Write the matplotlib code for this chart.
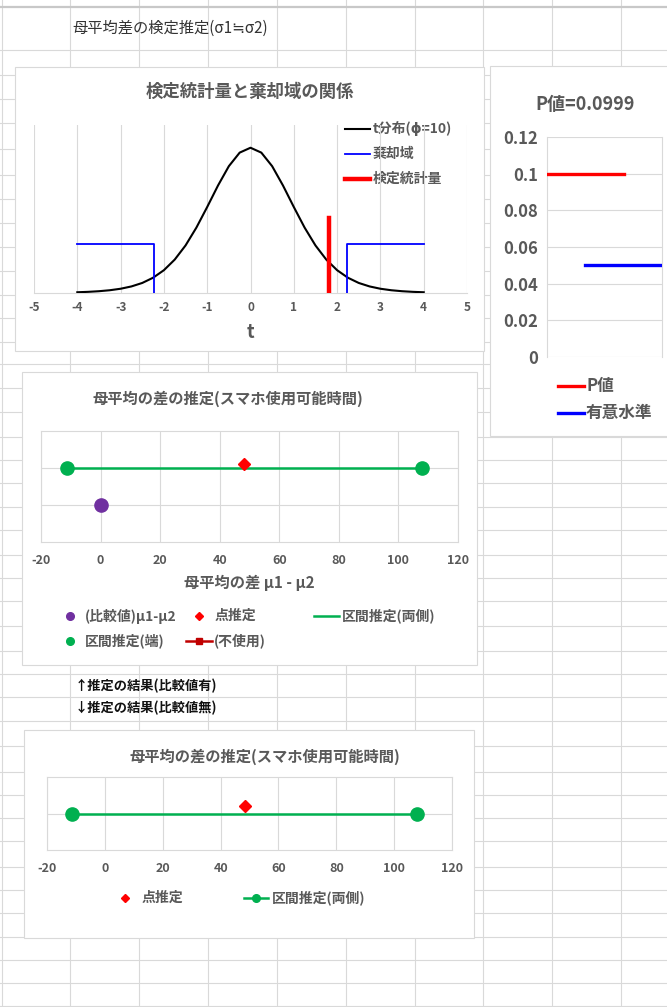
import matplotlib.pyplot as plt
from matplotlib.patches import Rectangle
from matplotlib.lines import Line2D

plt.rcParams['font.family'] = ['Noto Sans CJK JP', 'DejaVu Sans']
plt.rcParams['font.weight'] = 'bold'
plt.rcParams['axes.unicode_minus'] = False

W, H = 667, 1007
GRAY = '#595959'
GRID = '#d9d9d9'

# t分布(φ=10) の密度 (t = -4 .. 4, 0.25刻み)
t_vals = [-4.0, -3.75, -3.5, -3.25, -3.0, -2.75, -2.5, -2.25, -2.0, -1.75, -1.5,
          -1.25, -1.0, -0.75, -0.5, -0.25, 0.0, 0.25, 0.5, 0.75, 1.0, 1.25, 1.5,
          1.75, 2.0, 2.25, 2.5, 2.75, 3.0, 3.25, 3.5, 3.75, 4.0]
t_dens = [0.0020, 0.0031, 0.0048, 0.0074, 0.0114, 0.0176, 0.0269, 0.0409, 0.0611,
          0.0895, 0.1274, 0.1751, 0.2304, 0.2880, 0.3397, 0.3760, 0.3891, 0.3760,
          0.3397, 0.2880, 0.2304, 0.1751, 0.1274, 0.0895, 0.0611, 0.0409, 0.0269,
          0.0176, 0.0114, 0.0074, 0.0048, 0.0031, 0.0020]

# 棄却域 (左右) と検定統計量
rej_left_x = [-4.0, -2.228, -2.228]
rej_left_y = [0.13, 0.13, 0.0]
rej_right_x = [2.228, 2.228, 4.0]
rej_right_y = [0.0, 0.13, 0.13]
stat_x = [1.812, 1.812]
stat_y = [0.0, 0.2]

# P値と有意水準
p_value = 0.0999
alpha = 0.05
p_x = [0, 2]
alpha_x = [1, 3]

# 母平均の差の推定
comp_value = 0.0
point_est = 48.3
ci_low, ci_high = -11.2, 107.8

# シートのセル境界
col_lines = [2, 70, 138.9, 207.8, 276.7, 345.6, 414.5, 483.4, 552.3, 621.2]
row_lines = [50, 75, 99, 123, 149, 175, 199, 223, 247, 271, 295, 318, 342, 364,
             388, 412, 437, 460, 483, 507, 530, 555, 578, 601, 626, 651, 674, 697,
             721, 746, 772, 795, 818, 841, 867, 890, 913, 937, 960, 983, 1006]

fig = plt.figure(figsize=(W / 100, H / 100), dpi=100)
bg = fig.add_axes([0, 0, 1, 1])
bg.set_xlim(0, W)
bg.set_ylim(H, 0)
bg.axis('off')

for x in col_lines:
    bg.plot([x, x], [0, H], color=GRID, lw=0.8, zorder=1)
for y in row_lines:
    bg.plot([0, W], [y, y], color=GRID, lw=0.8, zorder=1)
bg.plot([0, W], [7, 7], color='#c8c8c8', lw=1.6, zorder=1)

bg.text(72, 28, '母平均差の検定推定(σ1≒σ2)', fontsize=11, color='#333333',
        fontweight='normal', va='center', ha='left')
bg.text(75, 686, '↑推定の結果(比較値有)', fontsize=9.5, color='#111111',
        va='center', ha='left')
bg.text(75, 708, '↓推定の結果(比較値無)', fontsize=9.5, color='#111111',
        va='center', ha='left')


def chart_box(x0, y0, x1, y1):
    bg.add_patch(Rectangle((x0, y0), x1 - x0, y1 - y0, facecolor='white',
                           edgecolor=GRID, lw=0.8, zorder=2))


def px_axes(x0, y0, x1, y1):
    ax = fig.add_axes([x0 / W, 1 - y1 / H, (x1 - x0) / W, (y1 - y0) / H])
    ax.set_facecolor('none')
    return ax


def key(x0, x1, y, color, label, tx, size, lw=0.0, marker=None, ms=0):
    if lw > 0:
        bg.add_line(Line2D([x0, x1], [y, y], color=color, lw=lw, zorder=3))
    if marker:
        xm = (x0 + x1) / 2
        bg.add_line(Line2D([xm], [y], color=color, marker=marker, ms=ms,
                           ls='none', zorder=4))
    bg.text(tx, y, label, fontsize=size, color=GRAY, va='center', ha='left',
            zorder=4)


def tick_style(ax, size, pad):
    ax.tick_params(length=0, labelsize=size, labelcolor=GRAY, pad=pad)


# ---- 検定統計量と棄却域 ----
chart_box(15, 67, 484, 351)
bg.text(250, 92, '検定統計量と棄却域の関係', fontsize=12.5, color=GRAY,
        ha='center', va='center', zorder=3)
ax1 = px_axes(34, 125, 467, 293)
ax1.set_xlim(-5, 5)
ax1.set_ylim(0, 0.45)
ax1.set_xticks(range(-5, 6))
ax1.set_yticks([])
ax1.grid(axis='x', color=GRID, lw=0.8)
for s in ['top', 'left', 'right']:
    ax1.spines[s].set_visible(False)
ax1.spines['bottom'].set_color(GRID)
ax1.plot(t_vals, t_dens, color='black', lw=1.5, zorder=3)
ax1.plot(rej_left_x, rej_left_y, color='#0000ff', lw=1.3, zorder=3)
ax1.plot(rej_right_x, rej_right_y, color='#0000ff', lw=1.3, zorder=3)
ax1.plot(stat_x, stat_y, color='#ff0000', lw=3.2, zorder=4)
tick_style(ax1, 8.5, 5.5)
bg.text(250, 332, 't', fontsize=13, color=GRAY, ha='center', va='center',
        zorder=3)
bg.add_patch(Rectangle((340, 120), 100, 70, facecolor='white', lw=0, zorder=2.5))
ax1.set_zorder(1)
leg1 = [('black', 't分布(ϕ=10)', 1.5), ('#0000ff', '棄却域', 1.3),
        ('#ff0000', '検定統計量', 3.2)]

# ---- P値 ----
chart_box(490, 66, 675, 436)
bg.text(585, 105, f'P値={p_value}', fontsize=13, color=GRAY,
        ha='center', va='center', zorder=3)
ax2 = px_axes(547, 137, 662, 357)
ax2.set_xlim(0, 3)
ax2.set_ylim(0, 0.12)
ax2.set_yticks([0, 0.02, 0.04, 0.06, 0.08, 0.1, 0.12])
ax2.set_yticklabels(['0', '0.02', '0.04', '0.06', '0.08', '0.1', '0.12'])
ax2.set_xticks([])
ax2.grid(axis='y', color=GRID, lw=0.8)
for s in ['top', 'bottom']:
    ax2.spines[s].set_visible(False)
for s in ['left', 'right']:
    ax2.spines[s].set_color(GRID)
ax2.plot(p_x, [p_value, p_value], color='#ff0000', lw=2.4, zorder=3)
ax2.plot(alpha_x, [alpha, alpha], color='#0000ff', lw=2.4, zorder=3)
tick_style(ax2, 12, 6.5)
key(558, 584, 386, '#ff0000', 'P値', 586, 12, lw=2.4)
key(558, 584, 413, '#0000ff', '有意水準', 586, 12, lw=2.4)

# ---- 母平均の差の推定 (比較値有) ----
chart_box(22, 372, 477, 665)
bg.text(228, 399, '母平均の差の推定(スマホ使用可能時間)', fontsize=11,
        color=GRAY, ha='center', va='center', zorder=3)
ax3 = px_axes(41, 431, 458, 542)
ax3.set_xlim(-20, 120)
ax3.set_ylim(0, 3)
ax3.set_xticks(range(-20, 121, 20))
ax3.set_yticks([1, 2])
ax3.set_yticklabels([])
ax3.grid(color=GRID, lw=0.8)
for s in ax3.spines.values():
    s.set_color(GRID)
ax3.plot([ci_low, ci_high], [2, 2], color='#00b050', lw=1.8, zorder=3)
ax3.plot([ci_low, ci_high], [2, 2], color='#00b050', marker='o', ms=9.5,
         ls='none', zorder=4)
ax3.plot([point_est], [2.1], color='#ff0000', marker='D', ms=6.5, ls='none',
         zorder=5)
ax3.plot([comp_value], [1], color='#7030a0', marker='o', ms=9.5, ls='none',
         zorder=4)
ax3.plot([], [], color='#c00000', marker='s')  # (不使用)
tick_style(ax3, 9, 8.5)
bg.text(249, 583, '母平均の差 μ1 - μ2', fontsize=11, color=GRAY,
        ha='center', va='center', zorder=3)
key(60, 80, 616, '#7030a0', '(比較値)μ1-μ2', 85, 10, marker='o', ms=5.5)
key(189, 209, 616, '#ff0000', '点推定', 215, 10, marker='D', ms=4)
key(314, 339, 616, '#00b050', '区間推定(両側)', 342, 10, lw=1.8)
key(60, 80, 641, '#00b050', '区間推定(端)', 85, 10, marker='o', ms=5.5)
key(186, 212, 641, '#c00000', '(不使用)', 214, 10, lw=1.8, marker='s', ms=5)

# ---- 母平均の差の推定 (比較値無) ----
chart_box(24, 730, 474, 938)
bg.text(265, 757, '母平均の差の推定(スマホ使用可能時間)', fontsize=11,
        color=GRAY, ha='center', va='center', zorder=3)
ax4 = px_axes(47, 777, 452, 850)
ax4.set_xlim(-20, 120)
ax4.set_ylim(0, 2)
ax4.set_xticks(range(-20, 121, 20))
ax4.set_yticks([1])
ax4.set_yticklabels([])
ax4.grid(color=GRID, lw=0.8)
for s in ax4.spines.values():
    s.set_color(GRID)
ax4.plot([ci_low, ci_high], [1, 1], color='#00b050', lw=1.8, marker='o',
         ms=9.5, zorder=3)
ax4.plot([point_est], [1.2], color='#ff0000', marker='D', ms=6.5, ls='none',
         zorder=4)
tick_style(ax4, 9, 9)
key(115, 135, 898, '#ff0000', '点推定', 142, 10, marker='D', ms=4)
key(244, 268, 898, '#00b050', '区間推定(両側)', 272, 10, lw=1.8, marker='o', ms=5.5)

# 凡例 (検定統計量と棄却域)
for i, (c, lab, lw) in enumerate(leg1):
    key(345, 370, 129 + 25 * i, c, lab, 373, 10, lw=lw)

fig.savefig('out.png', dpi=100)
